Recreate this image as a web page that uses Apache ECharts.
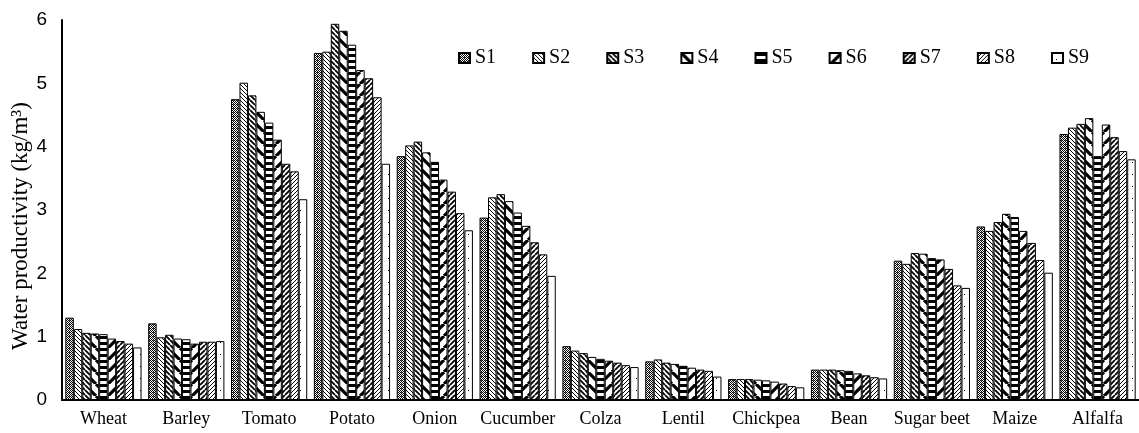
<!DOCTYPE html>
<html>
<head>
<meta charset="utf-8">
<script src="https://cdn.jsdelivr.net/npm/echarts@6/dist/echarts.min.js"></script>
<style>
html,body{margin:0;padding:0;background:#fff;}
#chart{width:1139px;height:433px;}
</style>
</head>
<body>
<div id="chart"></div>
<script>
const categories = ['Wheat','Barley','Tomato','Potato','Onion','Cucumber','Colza','Lentil','Chickpea','Bean','Sugar beet','Maize','Alfalfa'];
const seriesNames = ['S1','S2','S3','S4','S5','S6','S7','S8','S9'];
const S1 = [1.30, 1.21, 4.75, 5.48, 3.85, 2.88, 0.85, 0.61, 0.33, 0.48, 2.20, 2.74, 4.20];
const S2 = [1.12, 0.99, 5.01, 5.50, 4.02, 3.20, 0.78, 0.64, 0.33, 0.48, 2.15, 2.67, 4.30];
const S3 = [1.06, 1.03, 4.81, 5.94, 4.08, 3.25, 0.74, 0.59, 0.33, 0.48, 2.32, 2.81, 4.36];
const S4 = [1.05, 0.97, 4.55, 5.83, 3.91, 3.14, 0.68, 0.57, 0.32, 0.47, 2.31, 2.94, 4.45];
const S5 = [1.04, 0.96, 4.38, 5.61, 3.76, 2.96, 0.65, 0.54, 0.31, 0.46, 2.24, 2.89, 3.85];
const S6 = [0.97, 0.89, 4.11, 5.21, 3.48, 2.75, 0.62, 0.51, 0.29, 0.42, 2.22, 2.67, 4.35];
const S7 = [0.93, 0.92, 3.73, 5.08, 3.29, 2.49, 0.59, 0.48, 0.26, 0.39, 2.07, 2.48, 4.15];
const S8 = [0.89, 0.92, 3.61, 4.78, 2.95, 2.30, 0.55, 0.46, 0.22, 0.36, 1.81, 2.21, 3.93];
const S9 = [0.83, 0.93, 3.17, 3.73, 2.68, 1.96, 0.52, 0.37, 0.20, 0.34, 1.77, 2.01, 3.80];
const yTicks = [0, 1, 2, 3, 4, 5, 6];
const seriesData = [S1, S2, S3, S4, S5, S6, S7, S8, S9];

function tile(w, h, draw) {
  const c = document.createElement('canvas');
  c.width = w; c.height = h;
  const ctx = c.getContext('2d');
  ctx.fillStyle = '#fff';
  ctx.fillRect(0, 0, w, h);
  ctx.fillStyle = '#000';
  ctx.strokeStyle = '#000';
  draw(ctx);
  return { image: c, repeat: 'repeat' };
}
function diag(s, lw, dir) {
  return tile(s, s, ctx => {
    ctx.lineWidth = lw;
    ctx.beginPath();
    for (let k = -1; k <= 1; k++) {
      if (dir === 'back') { ctx.moveTo(k * s, 0); ctx.lineTo(k * s + s, s); }
      else { ctx.moveTo(k * s, s); ctx.lineTo(k * s + s, 0); }
    }
    ctx.stroke();
  });
}
const patterns = [
  tile(4, 4, ctx => { for (let y = 0; y < 4; y++) for (let x = 0; x < 4; x++) if ((x + y) % 2 === 0) ctx.fillRect(x, y, 1, 1); ctx.fillStyle = '#555'; ctx.fillRect(1,0,1,1); }),
  diag(4, 1, 'back'),
  diag(5, 1.8, 'back'),
  diag(12, 3.2, 'back'),
  tile(4, 6, ctx => { ctx.fillRect(0, 0, 4, 3); }),
  diag(12, 3.2, 'fwd'),
  diag(5, 1.8, 'fwd'),
  diag(4, 1, 'fwd'),
  tile(8, 12, ctx => { ctx.fillRect(4, 6, 1, 1); })
];

const chart = echarts.init(document.getElementById('chart'), null, { renderer: 'canvas' });
const serif = 'Liberation Serif';
chart.setOption({
  animation: false,
  backgroundColor: '#fff',
  legend: {
    left: 453, top: 43,
    itemWidth: 11, itemHeight: 10, itemGap: 36,
    icon: 'rect',
    textStyle: { fontFamily: serif, fontSize: 20, color: '#000' },
    data: seriesNames
  },
  grid: { left: 62, right: 0, top: 20, bottom: 33, containLabel: false, outerBoundsMode: 'none' },
  xAxis: {
    type: 'category', data: categories,
    axisLine: { lineStyle: { color: '#000', width: 2 } },
    axisTick: { show: false },
    axisLabel: { fontFamily: serif, fontSize: 18, color: '#000', margin: 10, interval: 0 }
  },
  yAxis: {
    type: 'value', min: yTicks[0], max: yTicks[yTicks.length - 1], interval: 1,
    name: 'Water productivity (kg/m³)', nameLocation: 'middle', nameGap: 30, nameMoveOverlap: false,
    nameTextStyle: { fontFamily: serif, fontSize: 23, color: '#000', padding: [0, 32, 0, 0] },
    axisLine: { show: true, lineStyle: { color: '#000', width: 2 } },
    axisTick: { show: false },
    splitLine: { show: false },
    axisLabel: { fontFamily: 'Liberation Sans', fontSize: 19, color: '#000', margin: 15 }
  },
  series: seriesNames.map((n, i) => ({
    name: n, type: 'bar', data: seriesData[i],
    barGap: '0%', barCategoryGap: '8%',
    itemStyle: { color: patterns[i], borderColor: '#000', borderWidth: 1 }
  }))
});
</script>
</body>
</html>
